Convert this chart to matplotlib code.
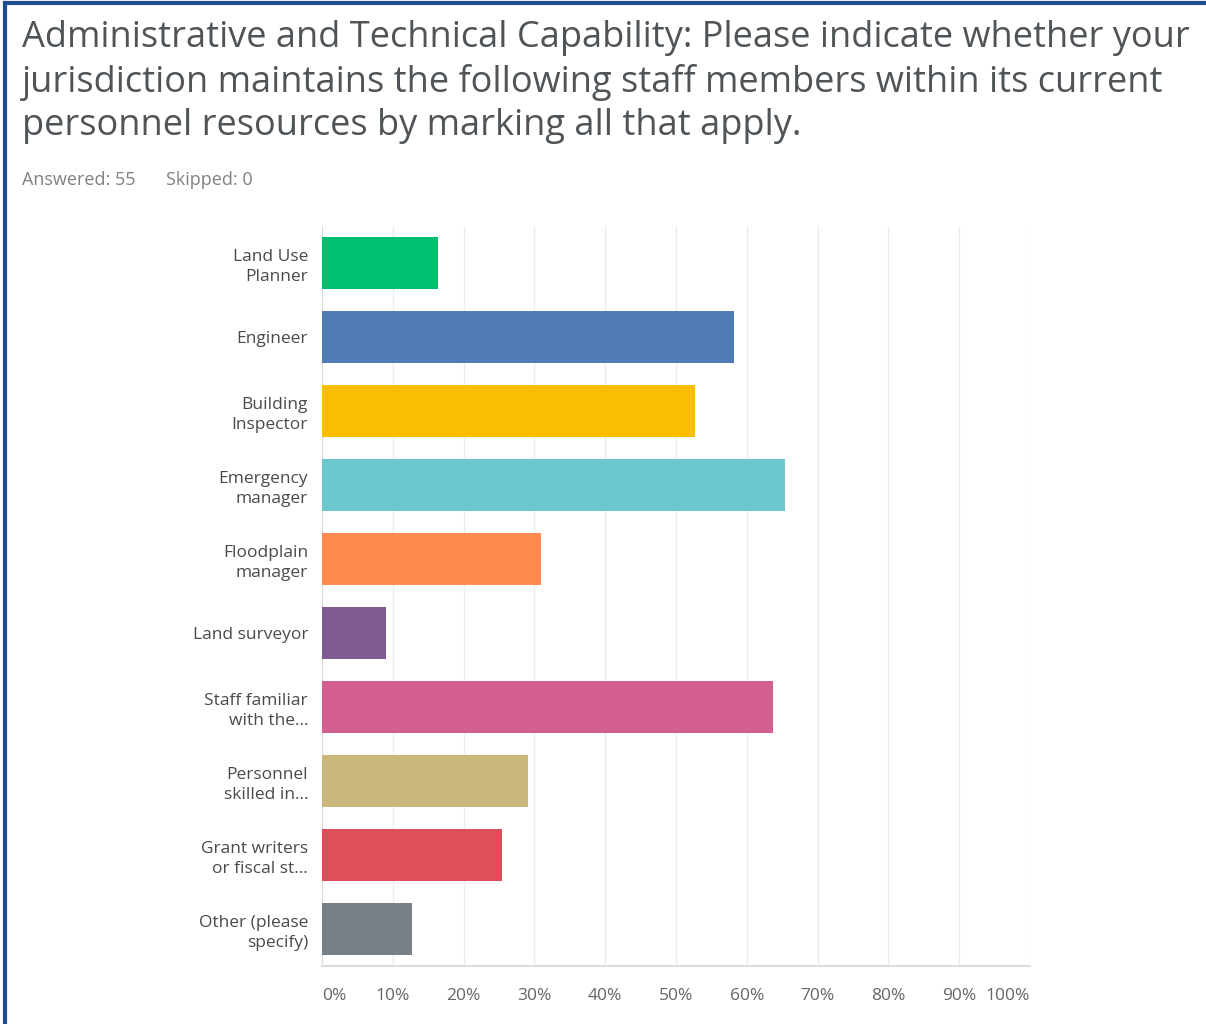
import matplotlib.pyplot as plt
from matplotlib.lines import Line2D

categories = ["Land Use\nPlanner", "Engineer", "Building\nInspector", "Emergency\nmanager",
              "Floodplain\nmanager", "Land surveyor", "Staff familiar\nwith the...",
              "Personnel\nskilled in...", "Grant writers\nor fiscal st...", "Other (please\nspecify)"]
values = [16.36, 58.18, 52.73, 65.45, 30.91, 9.09, 63.64, 29.09, 25.45, 12.73]
colors = ["#00BF6F", "#507CB6", "#F9BE00", "#6BC8CD", "#FF8B4F",
          "#7F5A90", "#D25F90", "#C9B77B", "#E04E5A", "#768086"]
ticks = list(range(0, 101, 10))
tick_labels = [f"{t}%" for t in ticks]

plt.rcParams['font.family'] = ['Open Sans', 'DejaVu Sans']

fig = plt.figure(figsize=(12.06, 10.24), dpi=100)
W, H = 1206, 1024
ax = fig.add_axes([322 / W, 1 - 966 / H, (1030 - 322) / W, (966 - 226) / H])

y = list(range(len(categories)))
ax.barh(y, values, height=0.7, color=colors, zorder=3)
ax.set_ylim(len(categories) - 0.5, -0.5)
ax.set_xlim(0, 100)
ax.set_yticks(y)
ax.set_yticklabels(categories, fontsize=12.5, color="#4a4a4a", linespacing=1.3)
ax.set_xticks(ticks)
ax.set_xticklabels(tick_labels, fontsize=12.5, color="#666666")
xl = ax.get_xticklabels()
xl[0].set_ha("left")
xl[-1].set_ha("right")
ax.tick_params(axis="y", length=0, pad=10)
ax.tick_params(axis="x", length=0, pad=16)
ax.grid(axis="x", color="#ececec", linewidth=1, zorder=0)
for s in ["top", "right"]:
    ax.spines[s].set_visible(False)
ax.spines["left"].set_color("#dcdcdc")
ax.spines["bottom"].set_color("#dcdcdc")
ax.spines["bottom"].set_linewidth(1.5)

fig.text(22 / W, 1 - 20 / H,
         "Administrative and Technical Capability: Please indicate whether your\n"
         "jurisdiction maintains the following staff members within its current\n"
         "personnel resources by marking all that apply.",
         fontsize=26, color="#4f5458", va="top", ha="left", linespacing=1.27)
fig.text(22 / W, 1 - 180 / H, "Answered: 55", fontsize=13, color="#808080", va="center")
fig.text(166 / W, 1 - 180 / H, "Skipped: 0", fontsize=13, color="#808080", va="center")

# dark blue frame on the left and top edges
fig.add_artist(Line2D([5 / W, 5 / W], [0, 1 - 3 / H], transform=fig.transFigure, color="#1f4e8c", lw=3))
fig.add_artist(Line2D([5 / W, 1], [1 - 3 / H, 1 - 3 / H], transform=fig.transFigure, color="#1f4e8c", lw=3))

fig.savefig("out.png", dpi=100)
